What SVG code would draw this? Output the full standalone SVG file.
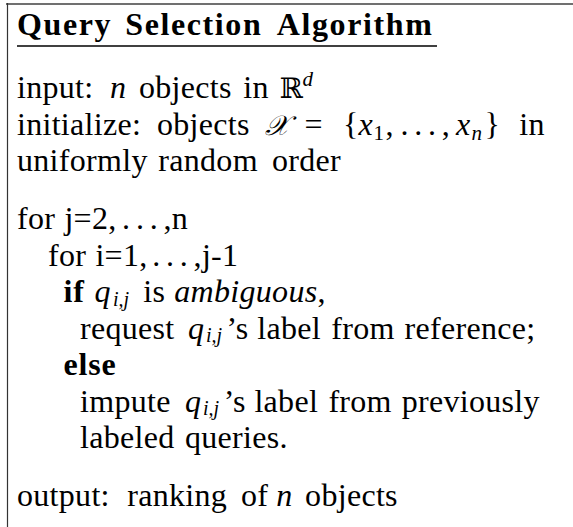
<svg xmlns="http://www.w3.org/2000/svg" width="573" height="527" viewBox="0 0 573 527">
<style>
.t{font-family:"Liberation Serif","Times New Roman",serif;font-size:32px;letter-spacing:0.3px;fill:#000}
.tt{font-family:"Liberation Serif","Times New Roman",serif;font-size:32px;font-weight:bold;letter-spacing:1.6px;fill:#000}
.b{font-weight:bold;letter-spacing:0.8px}
.i{font-style:italic}
.s{font-size:21px;letter-spacing:0}
.q{font-size:20px;letter-spacing:0}
.m{font-family:"DejaVu Serif","DejaVu Sans",serif;font-size:28px;letter-spacing:0}
.frame{stroke:#333;stroke-width:1.2;fill:none}
</style>
<rect width="573" height="527" fill="#fff"/>
<g id="frame">
<line x1="6" y1="4" x2="573" y2="4" stroke="#707070" stroke-width="2.2"/>
<line x1="7.5" y1="3" x2="7.5" y2="527" class="frame"/>
</g>
<g id="title">
<text class="tt" y="35"><tspan x="17">Query</tspan><tspan x="125.3">Selection</tspan><tspan x="276.8">Algorithm</tspan></text>
<line x1="17" y1="46" x2="437" y2="46" stroke="#000" stroke-width="1.3"/>
</g>
<g id="body">
<text class="t"><tspan x="17" y="98">input:</tspan><tspan x="110" y="98" class="i">n</tspan><tspan x="139" y="98">objects</tspan><tspan x="243.3" y="98">in</tspan><tspan x="279.5" y="98" class="m">ℝ</tspan><tspan x="302.5" y="86" class="s i">d</tspan></text>
<text class="t"><tspan x="17" y="134.5">initialize:</tspan><tspan x="157" y="134.5">objects</tspan><tspan x="265" y="134.5" class="m i">𝒳</tspan><tspan x="304.5" y="134.5">=</tspan><tspan x="343" y="134.5">{</tspan><tspan x="358.5" y="134.5" class="i">x</tspan><tspan x="373.5" y="140" class="s">1</tspan><tspan x="385.5" y="134.5">,</tspan><tspan x="400.4" y="134.5">.</tspan><tspan x="414.2" y="134.5">.</tspan><tspan x="428" y="134.5">.</tspan><tspan x="441.8" y="134.5">,</tspan><tspan x="456" y="134.5" class="i">x</tspan><tspan x="471.5" y="140" class="s i">n</tspan><tspan x="484.5" y="134.5">}</tspan><tspan x="519.3" y="134.5">in</tspan></text>
<text class="t"><tspan x="17" y="171">uniformly</tspan><tspan x="158.3" y="171">random</tspan><tspan x="272" y="171">order</tspan></text>
<text class="t"><tspan x="17" y="229">for</tspan><tspan x="64.4" y="229">j=2,</tspan><tspan x="122.1" y="229">.</tspan><tspan x="135.9" y="229">.</tspan><tspan x="149.7" y="229">.</tspan><tspan x="163.5" y="229">,n</tspan></text>
<text class="t"><tspan x="48" y="265.5">for</tspan><tspan x="95.4" y="265.5">i=1,</tspan><tspan x="152.2" y="265.5">.</tspan><tspan x="166" y="265.5">.</tspan><tspan x="179.8" y="265.5">.</tspan><tspan x="193.6" y="265.5">,j-1</tspan></text>
<text class="t"><tspan x="63.5" y="302" class="b">if</tspan><tspan x="94.6" y="302" class="i">q</tspan><tspan x="113" y="305.6" class="q i">i,j</tspan><tspan x="143.2" y="302">is</tspan><tspan x="174.3" y="302" class="i">ambiguous</tspan><tspan y="302">,</tspan></text>
<text class="t"><tspan x="80" y="338.5">request</tspan><tspan x="187.9" y="338.5" class="i">q</tspan><tspan x="206" y="342.1" class="q i">i,j</tspan><tspan x="226.5" y="338.5">’s</tspan><tspan x="257.3" y="338.5">label</tspan><tspan x="331.3" y="338.5">from</tspan><tspan x="404.6" y="338.5">reference;</tspan></text>
<text class="t b"><tspan x="63.5" y="375">else</tspan></text>
<text class="t"><tspan x="80" y="411.5">impute</tspan><tspan x="185" y="411.5" class="i">q</tspan><tspan x="203" y="415.1" class="q i">i,j</tspan><tspan x="223.8" y="411.5">’s</tspan><tspan x="254.4" y="411.5">label</tspan><tspan x="328.4" y="411.5">from</tspan><tspan x="401.7" y="411.5">previously</tspan></text>
<text class="t"><tspan x="80" y="448">labeled</tspan><tspan x="185" y="448">queries.</tspan></text>
<text class="t"><tspan x="17" y="506">output:</tspan><tspan x="127.2" y="506">ranking</tspan><tspan x="240.9" y="506">of</tspan><tspan x="276.2" y="506" class="i">n</tspan><tspan x="305.1" y="506">objects</tspan></text>
</g>
</svg>
